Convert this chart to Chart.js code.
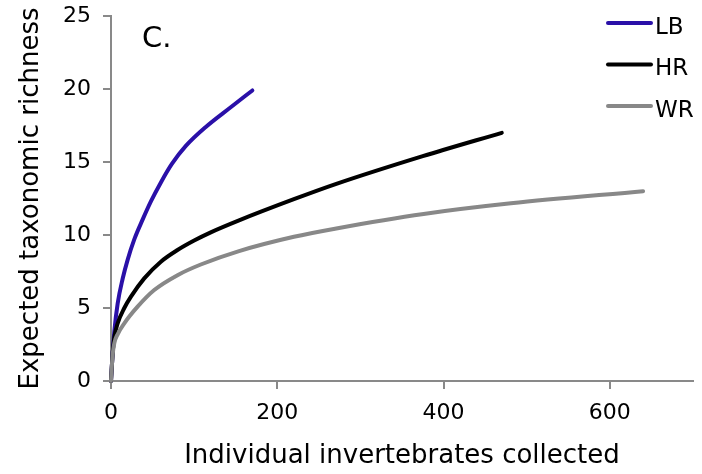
<!DOCTYPE html>
<html>
<head>
<meta charset="utf-8">
<script src="https://cdn.jsdelivr.net/npm/chart.js@4"></script>
<style>
  html, body { margin: 0; padding: 0; background: #fff; }
  #wrap { width: 702px; height: 474px; }
</style>
</head>
<body>
<div id="wrap"><canvas id="rarefactionChart" width="702" height="474"></canvas></div>
<script>
const seriesNames = ['LB', 'HR', 'WR'];
const seriesColors = ['#2a10a8', '#000000', '#888888'];

const xLB = [0, 1, 2, 4, 8, 14, 20, 28, 38, 48, 60, 73, 90, 114, 144, 170];
const yLB = [0, 1, 1.9, 3.4, 5.3, 7.0, 8.3, 9.7, 11.05, 12.3, 13.6, 14.85, 16.1, 17.4, 18.75, 19.9];

const xHR = [0, 1, 2, 4, 8, 16, 24, 40, 60, 80, 100, 120, 154, 220, 271, 375, 470];
const yHR = [0, 1, 1.9, 3.0, 3.95, 5.0, 5.78, 7.03, 8.17, 8.97, 9.62, 10.18, 11.0, 12.45, 13.5, 15.4, 17];

const xWR = [0, 1, 2, 4, 8, 16, 32, 52, 80, 108, 154, 220, 271, 376, 481, 640];
const yWR = [0, 1, 1.8, 2.6, 3.2, 3.95, 5.09, 6.23, 7.25, 7.98, 8.9, 9.88, 10.45, 11.44, 12.17, 13.0];

const xTicks = [0, 200, 400, 600];
const yTicks = [0, 5, 10, 15, 20, 25];

const panelLabel = 'C.';
const xTitle = 'Individual invertebrates collected';
const yTitle = 'Expected taxonomic richness';

const FONT = 'DejaVu Sans';
const axisGray = '#898989';

function toPoints(xs, ys) {
    return xs.map((x, i) => ({ x: x, y: ys[i] }));
}

const seriesX = [xLB, xHR, xWR];
const seriesY = [yLB, yHR, yWR];

const datasets = seriesNames.map((name, i) => ({
    label: name,
    data: toPoints(seriesX[i], seriesY[i]),
    borderColor: seriesColors[i],
    backgroundColor: seriesColors[i],
    borderWidth: 4,
    borderCapStyle: 'round',
    borderJoinStyle: 'round',
    pointRadius: 0,
    cubicInterpolationMode: 'monotone',
    fill: false,
    clip: false,
    order: 3 - i
}));

// legend + panel letter drawn inside the plot
const overlayPlugin = {
    id: 'overlay',
    afterDraw(chart) {
        const c = chart.ctx;
        const area = chart.chartArea;
        c.save();
        c.fillStyle = '#000';
        c.font = '29px "' + FONT + '"';
        c.textAlign = 'left';
        c.textBaseline = 'alphabetic';
        c.fillText(panelLabel, area.left + 31, area.top + 31);

        c.font = '23px "' + FONT + '"';
        chart.data.datasets.forEach((ds, i) => {
            const yLine = 23 + i * 41.5;
            c.strokeStyle = ds.borderColor;
            c.lineWidth = 4;
            c.lineCap = 'round';
            c.beginPath();
            c.moveTo(608, yLine);
            c.lineTo(651, yLine);
            c.stroke();
            c.fillStyle = '#000';
            c.fillText(ds.label, 655, yLine + 10.5);
        });
        c.restore();
    }
};

const ctx = document.getElementById('rarefactionChart').getContext('2d');
const rarefactionChart = new Chart(ctx, {
    type: 'line',
    data: { datasets: datasets },
    options: {
        responsive: false,
        animation: false,
        layout: { padding: { left: 0, right: 9, top: 16, bottom: 0 } },
        plugins: {
            legend: { display: false },
            tooltip: { enabled: false }
        },
        scales: {
            x: {
                type: 'linear',
                min: 0,
                max: 700,
                afterFit: (scale) => {
                    scale.height = 93;
                    scale.paddingLeft = 0;
                    scale.paddingRight = 0;
                },
                afterBuildTicks: (scale) => { scale.ticks = xTicks.map(v => ({ value: v })); },
                ticks: {
                    padding: 11,
                    color: '#000',
                    font: { family: FONT, size: 22 },
                    maxRotation: 0
                },
                grid: {
                    drawOnChartArea: false,
                    drawTicks: true,
                    tickLength: 8,
                    color: axisGray,
                    tickColor: axisGray,
                    lineWidth: 2,
                    tickWidth: 2
                },
                border: { display: true, color: axisGray, width: 2 },
                title: {
                    display: true,
                    text: xTitle,
                    color: '#000',
                    font: { family: FONT, size: 26 },
                    padding: { top: 0, bottom: 2 }
                }
            },
            y: {
                type: 'linear',
                min: 0,
                max: 25,
                afterFit: (scale) => {
                    scale.width = 111;
                    scale.paddingTop = 0;
                    scale.paddingBottom = 0;
                },
                afterBuildTicks: (scale) => { scale.ticks = yTicks.map(v => ({ value: v })); },
                ticks: {
                    padding: 12,
                    color: '#000',
                    font: { family: FONT, size: 22 }
                },
                grid: {
                    drawOnChartArea: false,
                    drawTicks: true,
                    tickLength: 8,
                    color: axisGray,
                    tickColor: axisGray,
                    lineWidth: 2,
                    tickWidth: 2
                },
                border: { display: true, color: axisGray, width: 2 },
                title: {
                    display: true,
                    text: yTitle,
                    color: '#000',
                    font: { family: FONT, size: 26 },
                    padding: { top: 16, bottom: 0 }
                }
            }
        }
    },
    plugins: [overlayPlugin]
});
</script>
</body>
</html>
